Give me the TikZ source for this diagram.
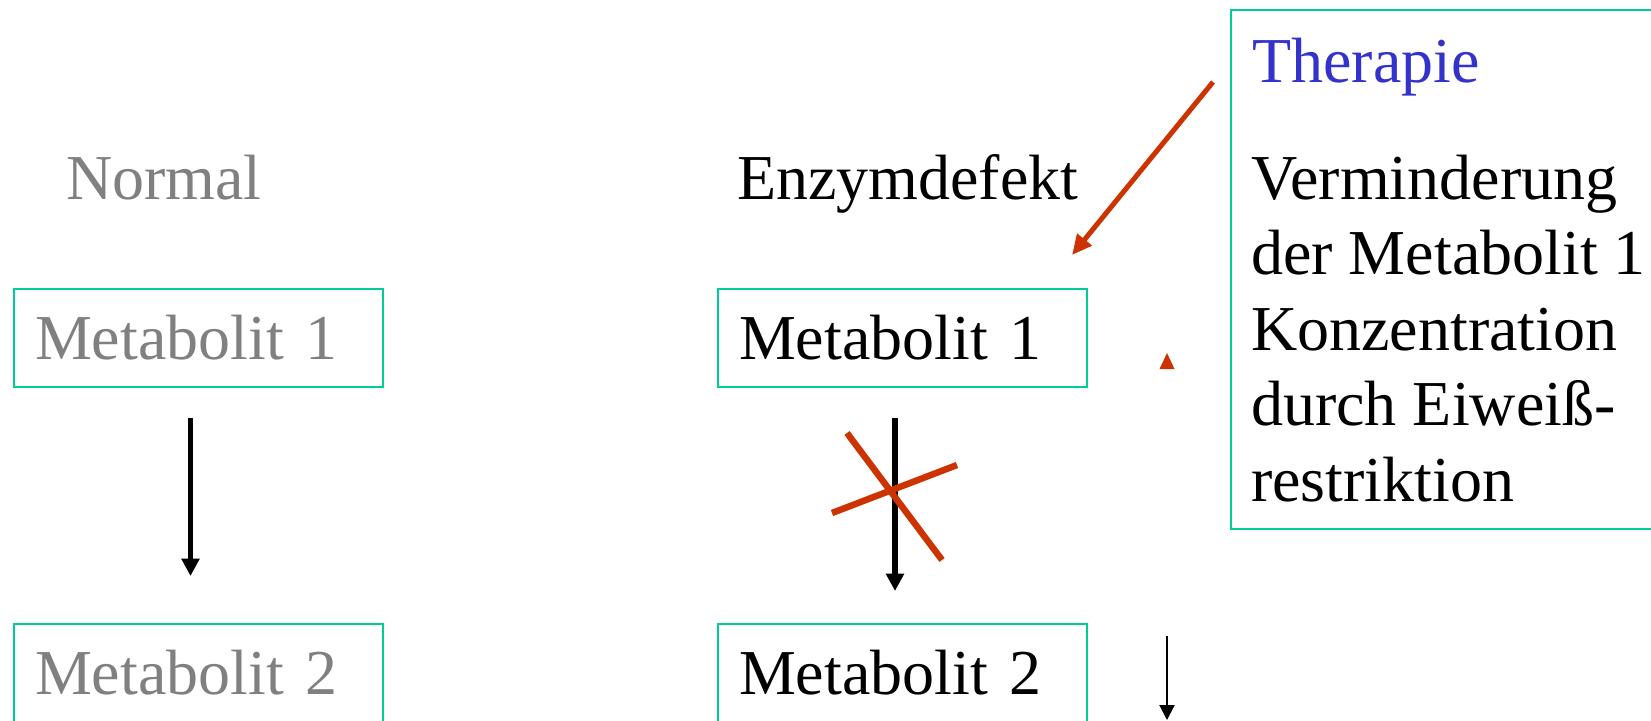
\documentclass[tikz,border=0pt]{standalone}
\usepackage{fontspec}
\setmainfont{Liberation Serif}
\usetikzlibrary{arrows.meta}
\definecolor{boxgreen}{HTML}{00CC99}
\definecolor{textgray}{HTML}{808080}
\definecolor{therblue}{HTML}{3333CC}
\definecolor{blockred}{HTML}{CC3300}
\begin{document}
\begin{tikzpicture}[x=1pt,y=-1pt,
  big/.style={font=\fontsize{64}{75.5}\selectfont},
  label/.style={big, anchor=base west, inner sep=0pt},
  metabox/.style={draw=boxgreen, line width=2pt, inner xsep=21pt, inner ysep=0pt,
    text width=327pt, minimum height=98pt, align=left, big},
  flow/.style={line width=5.8pt, -{Triangle[length=17.5pt,width=17.5pt]}},
  redflow/.style={blockred, line width=5pt, -{Triangle[length=20pt,width=18pt]}},
  cross/.style={blockred, line width=6.5pt},
  thin flow/.style={line width=2pt, -{Triangle[length=15pt,width=15pt]}}]
\useasboundingbox (0,0) rectangle (1651,720);
\clip (0,0) rectangle (1651,720);

% column headings
\node[label, text=textgray] (normal) at (66,199) {Normal};
\node[label] (defekt) at (737,199) {Enzymdefekt};

% metabolite boxes
\node[metabox, text=textgray] (n1) at (198.5,338) {Metabolit 1};
\node[metabox, text=textgray] (n2) at (198.5,673) {Metabolit 2};
\node[metabox] (e1) at (902.5,338) {Metabolit 1};
\node[metabox] (e2) at (902.5,673) {Metabolit 2};

% therapy box
\node[draw=boxgreen, line width=2pt, anchor=north west, minimum width=440pt,
      minimum height=519pt, inner sep=0pt] (ther) at (1230,9) {};
\node[label, text=therblue] (thtitle) at (1252,82) {Therapie};
\node[label] (thdesc) at (1251,199) {\parbox[t]{420pt}{\raggedright
  Verminderung\\der Metabolit 1\\Konzentration\\durch Eiweiß-\\restriktion}};

% conversions
\draw[flow, shorten <=30pt, shorten >=47pt]
  ([xshift=-8pt]n1.south) -- ([xshift=-8pt]n2.north);
\draw[flow, shorten <=30pt, shorten >=32pt]
  ([xshift=-7.5pt]e1.south) -- ([xshift=-7.5pt]e2.north);

% blocked step
\draw[cross] (847,433) -- (942,560);
\draw[cross] (832,513) -- (957,465);

% therapy acts on metabolite 1
\coordinate (therstart) at ([xshift=-17pt,yshift=-73pt]ther.north west);
\coordinate (thertip) at ([xshift=-16pt,yshift=33pt]e1.north east);
\draw[redflow] (therstart) -- (thertip);

% concentration markers
\fill[blockred] (1159.5,369) -- (1167,353) -- (1174.5,369) -- cycle;
\coordinate (lowtop) at (1167,636);
\coordinate (lowend) at (1167,720);
\draw[thin flow] (lowtop) -- (lowend);
\end{tikzpicture}
\end{document}
